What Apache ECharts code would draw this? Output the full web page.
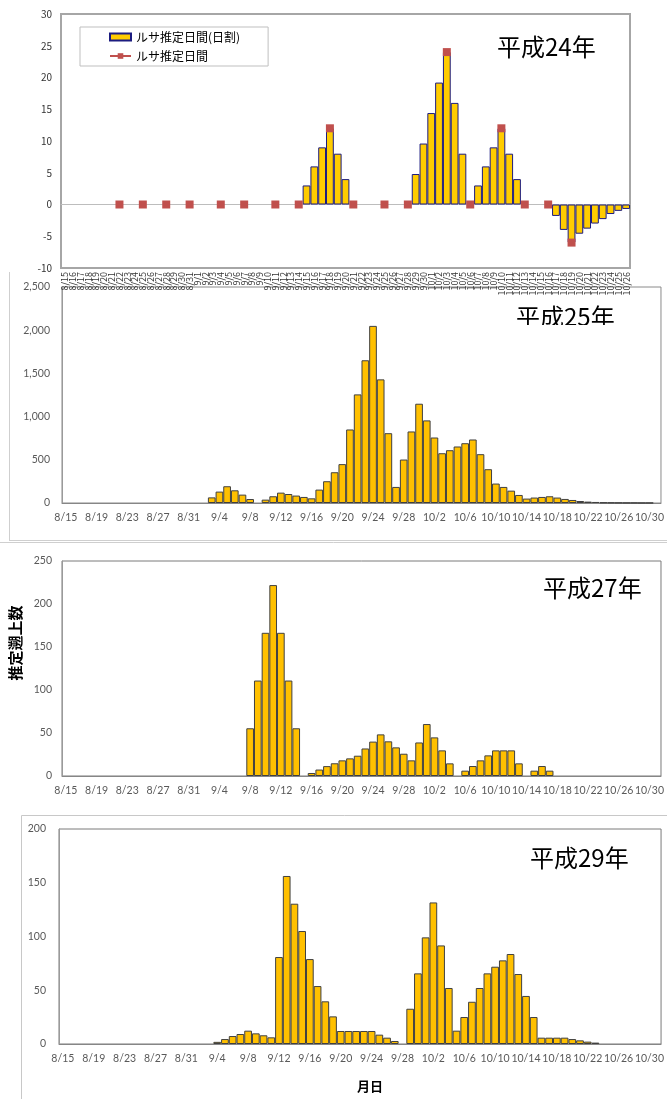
<!DOCTYPE html>
<html><head><meta charset="utf-8">
<script src="https://cdn.jsdelivr.net/npm/echarts@6/dist/echarts.min.js"></script>
<style>html,body{margin:0;padding:0;background:#fff}#c{width:667px;height:1099px}</style>
</head><body><div id="c"></div>
<script>
// ---- categories (day labels) ----
function dayLabels(first, count){
  const out=[]; const d=new Date(2001, first[0]-1, first[1]);
  for(let i=0;i<count;i++){ out.push((d.getMonth()+1)+'/'+d.getDate()); d.setDate(d.getDate()+1); }
  return out;
}
const h24Days = dayLabels([8,15], 73);     // 8/15 .. 10/26
const seasonDays = dayLabels([8,15], 78);  // 8/15 .. 10/31

// ---- 平成24年 ----
const h24DailyStart = '9/15';
const h24Daily = [3,6,9,12,8,4,null,null,null,null,null,null,null,null,
  4.8,9.6,14.4,19.2,24,16,8,null,3,6,9,12,8,4,null,null,null,null,
  -1.8,-4,-6,-4.6,-3.8,-3,-2.3,-1.5,-1,-0.7];
const h24EstDays = ['8/22','8/25','8/28','8/31','9/4','9/7','9/11','9/14','9/18','9/21','9/25','9/28','10/3','10/6','10/10','10/13','10/16','10/19'];
const h24Est     = [0,0,0,0,0,0,0,0,12,0,0,0,24,0,12,0,0,-6];

// ---- 平成25年 ----
const h25Start = '9/3';
const h25Values = [65,132,194,147,97,46,null,39,78,120,104,86,70,54,155,252,356,450,
  851,1257,1652,2050,1431,808,186,503,828,1149,956,758,576,611,654,692,735,565,391,225,
  186,143,93,51,63,70,78,63,47,35,23,16,12,6,4,3,2,2,1,1];

// ---- 平成27年 ----
const h27Start = '9/8';
const h27Values = [55.5,111,166.5,222,166.5,111,55.5,null,3.5,7.5,11.5,14.8,18.2,20.5,23.6,32,
  40,48.4,40.3,33.3,25.9,18.2,39,60.4,44.9,29.8,14.7,null,6.2,11.6,18.2,24,29.8,29.8,29.8,14.7,
  null,6.2,11.6,6.2];

// ---- 平成29年 ----
const h29Start = '9/4';
const h29Values = [2,4.6,7.4,9.3,12.4,9.9,8.1,6.2,80.9,156.3,130.5,105.1,79,53.9,39.7,25.7,
  12.1,12.1,12.1,12.1,12.1,8.7,5.9,2.8,null,32.8,65.7,99.2,131.7,91.7,52.1,12.4,
  25.1,39.3,52.1,65.7,71.9,77.8,83.7,65.1,44.7,25.1,5.9,5.9,5.9,5.9,4.6,3.4,2.2,1.3];

// y-axis tick settings
const yTicks = [
  {min:-10, max:30, interval:5},
  {min:0, max:2500, interval:500},
  {min:0, max:250, interval:50},
  {min:0, max:200, interval:50}
];

// placement helpers (no value computation)
function placeRun(cats, start, vals){
  const out = cats.map(()=>null); const s = cats.indexOf(start);
  vals.forEach((v,i)=>{ out[s+i] = v; }); return out;
}
function placePoints(cats, days, vals){
  const out = cats.map(()=>null);
  days.forEach((d,i)=>{ out[cats.indexOf(d)] = vals[i]; }); return out;
}

const JP = "'Noto Sans CJK JP', sans-serif";
const LAT = "Lato, 'Noto Sans', sans-serif";

const grids = [
  {left:61, top:14, width:569, height:254, show:true, borderColor:'#a6a6a6', borderWidth:2},
  {left:62, top:287, width:600, height:216, show:true, borderColor:'#8a8a8a', borderWidth:1},
  {left:62, top:561, width:603, height:215, show:true, borderColor:'#7a7a7a', borderWidth:1},
  {left:59, top:829, width:607, height:215, show:true, borderColor:'#7a7a7a', borderWidth:1}
];

const xAxes = [
  {gridIndex:0, type:'category', data:h24Days,
   axisLine:{onZero:true, lineStyle:{color:'#bdbdbd'}},
   axisTick:{interval:0, length:3, lineStyle:{color:'#bdbdbd'}},
   axisLabel:{interval:0, rotate:90, fontSize:9, margin:4, color:'#333', fontFamily:JP}}
];
for (let g=1; g<4; g++){
  xAxes.push({gridIndex:g, type:'category', data:seasonDays,
    axisLine:{lineStyle:{color:'#868686'}},
    axisTick:{interval:3, length:5, lineStyle:{color:'#868686'}},
    axisLabel:{interval:3, fontSize:10.5, margin:9, color:'#595959', fontFamily:LAT}});
}
const yAxes = yTicks.map((t,g)=>({
  gridIndex:g, type:'value', min:t.min, max:t.max, interval:t.interval,
  axisLine:{show:g>0, lineStyle:{color:'#9a9a9a'}}, axisTick:{show:false}, splitLine:{show:false},
  axisLabel:{fontSize:g===0?10:10.5, color:g===0?'#333':'#595959', margin:[9,12,10,13][g],
             fontFamily:g===0?JP:LAT}
}));

const barStyle = {color:'#FFC000', borderColor:'#404040', borderWidth:1};

const option = {
  animation:false,
  textStyle:{fontFamily:JP},
  grid: grids,
  xAxis: xAxes,
  yAxis: yAxes,
  legend:{
    left:80, top:27, orient:'vertical', borderColor:'#bfbfbf', borderWidth:1,
    padding:[4,28,4,29], itemWidth:21, itemHeight:7, itemGap:7,
    textStyle:{fontSize:12, color:'#000', fontFamily:JP},
    data:[{name:'ルサ推定日間(日割)', icon:'rect'}, {name:'ルサ推定日間'}]
  },
  series:[
    {name:'ルサ推定日間(日割)', type:'bar', xAxisIndex:0, yAxisIndex:0, barCategoryGap:'0%',
     itemStyle:{color:'#FFCC00', borderColor:'#1c1c80', borderWidth:1},
     data: placeRun(h24Days, h24DailyStart, h24Daily)},
    {name:'ルサ推定日間', type:'line', xAxisIndex:0, yAxisIndex:0, z:3,
     symbol:'rect', symbolSize:8, showAllSymbol:true, connectNulls:false,
     itemStyle:{color:'#C0504D'}, lineStyle:{color:'#C0504D', width:2.5},
     data: placePoints(h24Days, h24EstDays, h24Est)},
    {name:'H25', type:'bar', xAxisIndex:1, yAxisIndex:1, barCategoryGap:'0%', itemStyle:barStyle,
     data: placeRun(seasonDays, h25Start, h25Values)},
    {name:'H27', type:'bar', xAxisIndex:2, yAxisIndex:2, barCategoryGap:'0%', itemStyle:barStyle,
     data: placeRun(seasonDays, h27Start, h27Values)},
    {name:'H29', type:'bar', xAxisIndex:3, yAxisIndex:3, barCategoryGap:'0%', itemStyle:barStyle,
     data: placeRun(seasonDays, h29Start, h29Values)}
  ],
  graphic:[
    {type:'line', shape:{x1:9.5,y1:272,x2:9.5,y2:541}, style:{stroke:'#cfcfcf', lineWidth:1}},
    {type:'line', shape:{x1:9,y1:540.5,x2:667,y2:540.5}, style:{stroke:'#cfcfcf', lineWidth:1}},
    {type:'line', shape:{x1:0,y1:542.5,x2:667,y2:542.5}, style:{stroke:'#cfcfcf', lineWidth:1}},
    {type:'polyline', shape:{points:[[21.5,1099],[21.5,815.5],[667,815.5]]}, style:{stroke:'#c8c8c8', fill:null, lineWidth:1}},
    {type:'text', left:497, top:35, z:10, style:{text:'平成24年', fontSize:24, fontFamily:JP, fill:'#000'}},
    {type:'text', left:516, top:305, z:10, style:{text:'平成25年', fontSize:24, fontFamily:JP, fill:'#000'}},
    {type:'rect', shape:{x:505, y:325, width:125, height:14}, z:20, style:{fill:'#fff'}},
    {type:'text', left:543, top:576, z:10, style:{text:'平成27年', fontSize:24, fontFamily:JP, fill:'#000'}},
    {type:'text', left:530, top:846, z:10, style:{text:'平成29年', fontSize:24, fontFamily:JP, fill:'#000'}},
    {type:'text', x:15, y:643, rotation:Math.PI/2, z:10,
     style:{text:'推定遡上数', fontSize:15, fontWeight:'bold', fontFamily:JP, fill:'#000', align:'center', verticalAlign:'middle'}},
    {type:'text', x:370, y:1086, z:10,
     style:{text:'月日', fontSize:13, fontWeight:'bold', fontFamily:JP, fill:'#000', align:'center', verticalAlign:'middle'}}
  ]
};
const chart = echarts.init(document.getElementById('c'), null, {renderer:'canvas'});
chart.setOption(option);
</script>
</body></html>
